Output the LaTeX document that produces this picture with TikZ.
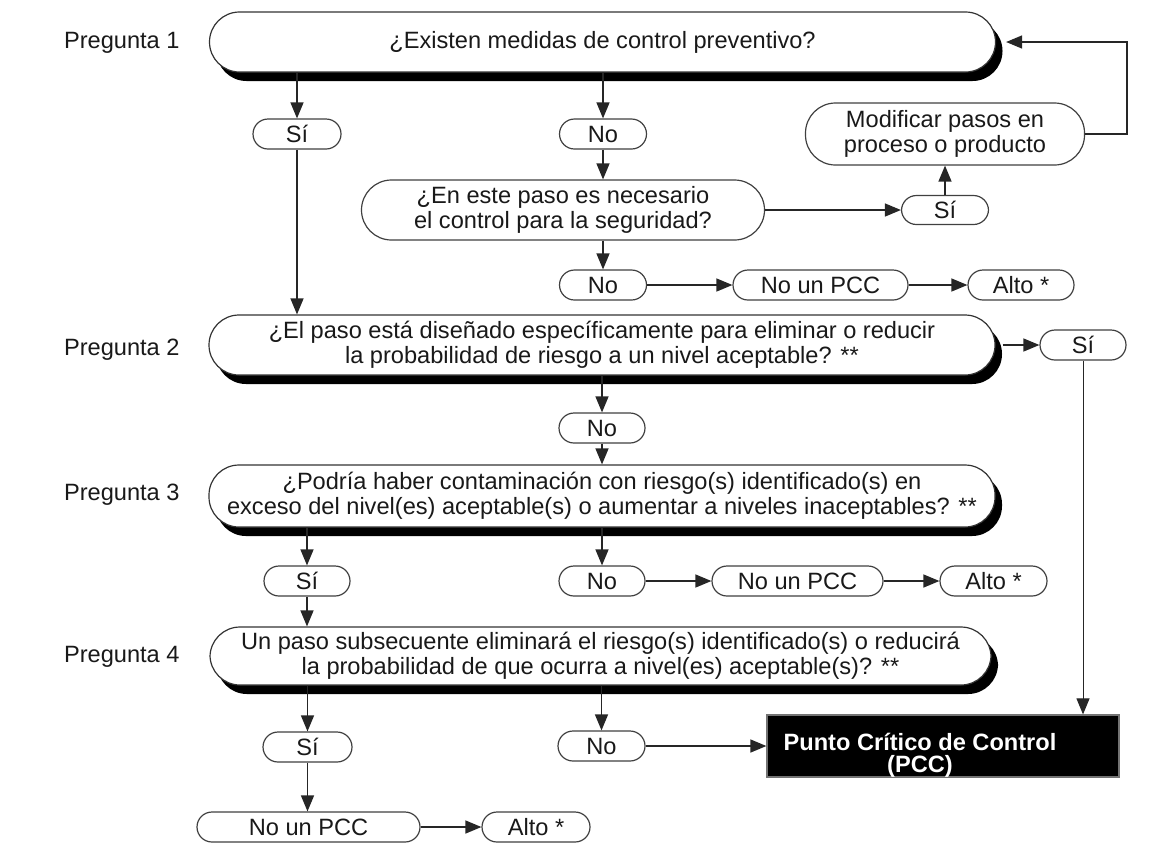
\documentclass[tikz,border=0pt]{standalone}
\usepackage{fontspec}
\setmainfont{Liberation Sans}
\usetikzlibrary{shadows,arrows.meta}
\begin{document}
\begin{tikzpicture}[x=0.5pt,y=-0.5pt,
  every node/.style={font=\fontsize{11.8pt}{12.3pt}\selectfont, text=black!90},
  qbox/.style={rectangle, rounded corners=15pt, draw=black!80, line width=0.6pt, fill=white,
    minimum width=393pt, minimum height=30pt, align=center, inner sep=0pt,
    drop shadow={shadow xshift=3.5pt, shadow yshift=-4.5pt, fill=black, opacity=1}},
  pill/.style={rectangle, rounded corners=7.5pt, draw=black!75, line width=0.6pt, fill=white,
    minimum height=15pt, inner sep=0pt, align=center},
  bigpill/.style={pill, rounded corners=15pt, minimum height=30pt},
  arr/.style={-{Triangle[length=8pt,width=6.5pt]}, line width=0.7pt, draw=black!85},
  lbl/.style={anchor=west}
]
\useasboundingbox (0,0) rectangle (1171,842);

% Question labels
\node[lbl] (p1) at (57,43) {Pregunta 1};
\node[lbl] (p2) at (57,350) {Pregunta 2};
\node[lbl] (p3) at (57,495) {Pregunta 3};
\node[lbl] (p4) at (57,657) {Pregunta 4};

% Question 1 block
\node[qbox] (q1) at (602.5,42) {¿Existen medidas de control preventivo?};
\node[pill, minimum width=44pt] (si1) at (297,134) {Sí};
\node[pill, minimum width=43.5pt] (no1) at (603,134) {No};
\node[bigpill, minimum width=201.5pt] (en) at (563,210) {¿En este paso es necesario\\el control para la seguridad?};
\node[bigpill, minimum width=139.5pt, minimum height=31pt] (mod) at (945,134) {Modificar pasos en\\proceso o producto};
\node[pill, minimum width=43.5pt, minimum height=14.5pt] (si2) at (945,210) {Sí};
\node[pill, minimum width=43.5pt] (no2) at (603,285) {No};
\node[pill, minimum width=87.5pt] (npcc1) at (820.5,285) {No un PCC};
\node[pill, minimum width=53pt] (alto1) at (1021,285) {Alto *};
\coordinate (lpa) at (1127,134);
\coordinate (lpb) at (1127,42);

% Question 2 block
\node[qbox] (q2) at (602,345) {¿El paso está diseñado específicamente para eliminar o reducir\\la probabilidad de riesgo a un nivel aceptable? **};
\node[pill, minimum width=43pt] (si3) at (1083,345) {Sí};
\node[pill, minimum width=43pt] (no3) at (602,428) {No};

% Question 3 block
\node[qbox, minimum height=31pt] (q3) at (602,496) {¿Podría haber contaminación con riesgo(s) identificado(s) en\\exceso del nivel(es) aceptable(s) o aumentar a niveles inaceptables? **};
\node[pill, minimum width=43pt] (si4) at (307,581) {Sí};
\node[pill, minimum width=43pt] (no4) at (602,581) {No};
\node[pill, minimum width=85.5pt] (npcc2) at (797.5,581) {No un PCC};
\node[pill, minimum width=53.5pt] (alto2) at (993.5,581) {Alto *};

% Question 4 block
\node[qbox, minimum width=390.5pt, minimum height=29pt] (q4) at (600.5,656) {Un paso subsecuente eliminará el riesgo(s) identificado(s) o reducirá\\la probabilidad de que ocurra a nivel(es) aceptable(s)? **};
\node[pill, minimum width=44.5pt] (si5) at (307.5,747) {Sí};
\node[pill, minimum width=43.5pt] (no5) at (601.5,746) {No};
\node[draw=black!55, line width=0.6pt, fill=black, minimum width=176pt, minimum height=31pt, inner sep=0pt] (pcc) at (943,746) {};
\node[text=white, font=\fontsize{11.8pt}{11pt}\selectfont\bfseries, align=center] (pcct) at (920,755) {Punto Crítico de Control\\(PCC)};
\node[pill, minimum width=111.5pt] (npcc3) at (308.5,827) {No un PCC};
\node[pill, minimum width=54pt] (alto3) at (536,827) {Alto *};

% Connectors
\draw[arr] (si1 |- q1.south) -- (si1.north);
\draw[arr] (no1 |- q1.south) -- (no1.north);
\draw[arr] (no1.south) -- (no1 |- en.north);
\draw[arr] (no2 |- en.south) -- (no2.north);
\draw[arr] (no2) -- (npcc1);
\draw[arr] (npcc1) -- (alto1);
\draw[arr] (en) -- (si2);
\draw[arr] (si2.north) -- (mod.south);
\draw[arr] (mod.east) -- (lpa) -- (lpb) -- ([xshift=5pt]q1.east);
\draw[arr] (si1.south) -- (si1 |- q2.north);
\draw[arr] ([xshift=3.5pt]q2.east) -- (si3.west);
\draw[arr, line width=0.5pt] (si3.south) -- (si3 |- pcc.north);
\draw[arr] (no3 |- q2.south) -- (no3.north);
\draw[arr] (no3.south) -- (no3 |- q3.north);
\draw[arr] (si4 |- q3.south) -- (si4.north);
\draw[arr] (no4 |- q3.south) -- (no4.north);
\draw[arr] (no4) -- (npcc2);
\draw[arr] (npcc2) -- (alto2);
\draw[arr] (si4.south) -- (si4 |- q4.north);
\draw[arr] (si5 |- q4.south) -- (si5.north);
\draw[arr] (no5 |- q4.south) -- (no5.north);
\draw[arr] (no5) -- (pcc);
\draw[arr] (si5.south) -- (si5 |- npcc3.north);
\draw[arr] (npcc3) -- (alto3);
\end{tikzpicture}
\end{document}
